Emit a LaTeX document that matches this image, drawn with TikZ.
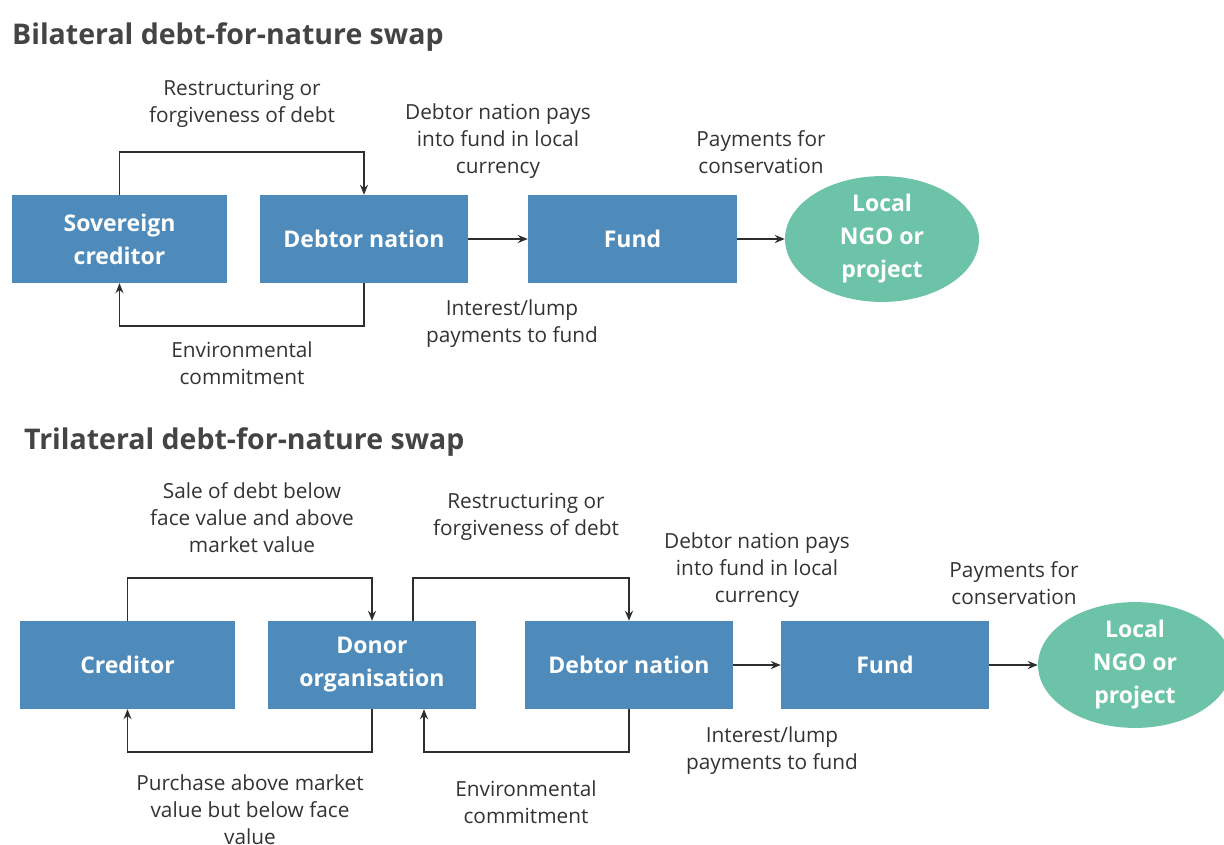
\documentclass[tikz,border=0pt]{standalone}
\usepackage{fontspec}
\setmainfont{Open Sans}
\usetikzlibrary{arrows.meta,calc,shapes.geometric}
\definecolor{boxblue}{HTML}{4F8BBA}
\definecolor{ngogreen}{HTML}{6CC3A8}
\definecolor{txt}{HTML}{333333}
\definecolor{ttl}{HTML}{444444}
\definecolor{ln}{HTML}{2E2E2E}
\tikzset{
  box/.style={rectangle, fill=boxblue, draw=none, inner sep=0pt, minimum width=208pt, minimum height=88pt, text=white, align=center, font=\fontsize{23}{33}\selectfont\bfseries},
  ngo/.style={ellipse, fill=ngogreen, draw=none, inner sep=0pt, minimum width=194pt, minimum height=122pt, text=white, align=center, font=\fontsize{23}{33}\selectfont\bfseries},
  lbl/.style={text=txt, align=center, inner sep=0pt, font=\fontsize{20.8}{27}\selectfont},
  ttlstyle/.style={text=ttl, anchor=base west, inner sep=0pt, font=\fontsize{28.5}{32}\selectfont\bfseries},
  conn/.style={draw=ln, line width=1.5pt, -{Stealth[length=10pt,width=8pt]}}
}
\begin{document}
\begin{tikzpicture}[x=1pt,y=-1pt]
\useasboundingbox (0,0) rectangle (1224,844);
% ---------- Bilateral ----------
\node[ttlstyle] (t1) at (12,44) {Bilateral debt-for-nature swap};
\node[box, minimum width=215pt] (sov) at (119.5,239) {Sovereign\\creditor};
\node[box] (deb1) at (364,239) {Debtor nation};
\node[box, minimum width=209pt] (fund1) at (632.5,239) {Fund};
\node[ngo] (ngo1) at (882,239) {Local\\NGO or\\project};

\draw[conn] (sov.north) -- ++(0,-43) -| (deb1.north);
\draw[conn] (deb1.south) -- ++(0,43) -| (sov.south);
\draw[conn] (deb1.east) -- (fund1.west);
\draw[conn] (fund1.east) -- (ngo1.west);

\node[lbl] (l1) at (242,104) {Restructuring or\\forgiveness of debt};
\node[lbl] (l2) at (498,141) {Debtor nation pays\\into fund in local\\currency};
\node[lbl] (l3) at (761,152) {Payments for\\conservation};
\node[lbl] (l4) at (512,324) {Interest/lump\\payments to fund};
\node[lbl] (l5) at (242,363) {Environmental\\commitment};

% ---------- Trilateral ----------
\node[ttlstyle] (t2) at (24,449) {Trilateral debt-for-nature swap};
\node[box, minimum width=215pt] (cred) at (127.5,665) {Creditor};
\node[box] (donor) at (372,665) {Donor\\organisation};
\node[box] (deb2) at (629,665) {Debtor nation};
\node[box] (fund2) at (885,665) {Fund};
\node[ngo] (ngo2) at (1135,665) {Local\\NGO or\\project};

\draw[conn] (cred.north) -- ++(0,-43) -| (donor.north);
\draw[conn] ($(donor.north)+(41,0)$) -- ++(0,-43) -| (deb2.north);
\draw[conn] (donor.south) -- ++(0,43) -| (cred.south);
\draw[conn] (deb2.south) -- ++(0,43) -| ($(donor.south)+(52,0)$);
\draw[conn] (deb2.east) -- (fund2.west);
\draw[conn] (fund2.east) -- (ngo2.west);

\node[lbl] (m1) at (252,518) {Sale of debt below\\face value and above\\market value};
\node[lbl] (m2) at (526,517) {Restructuring or\\forgiveness of debt};
\node[lbl] (m3) at (757,570) {Debtor nation pays\\into fund in local\\currency};
\node[lbl] (m4) at (1014,583) {Payments for\\conservation};
\node[lbl] (m5) at (772,751) {Interest/lump\\payments to fund};
\node[lbl] (m6) at (526,802) {Environmental\\commitment};
\node[lbl] (m7) at (250,810) {Purchase above market\\value but below face\\value};
\end{tikzpicture}
\end{document}
